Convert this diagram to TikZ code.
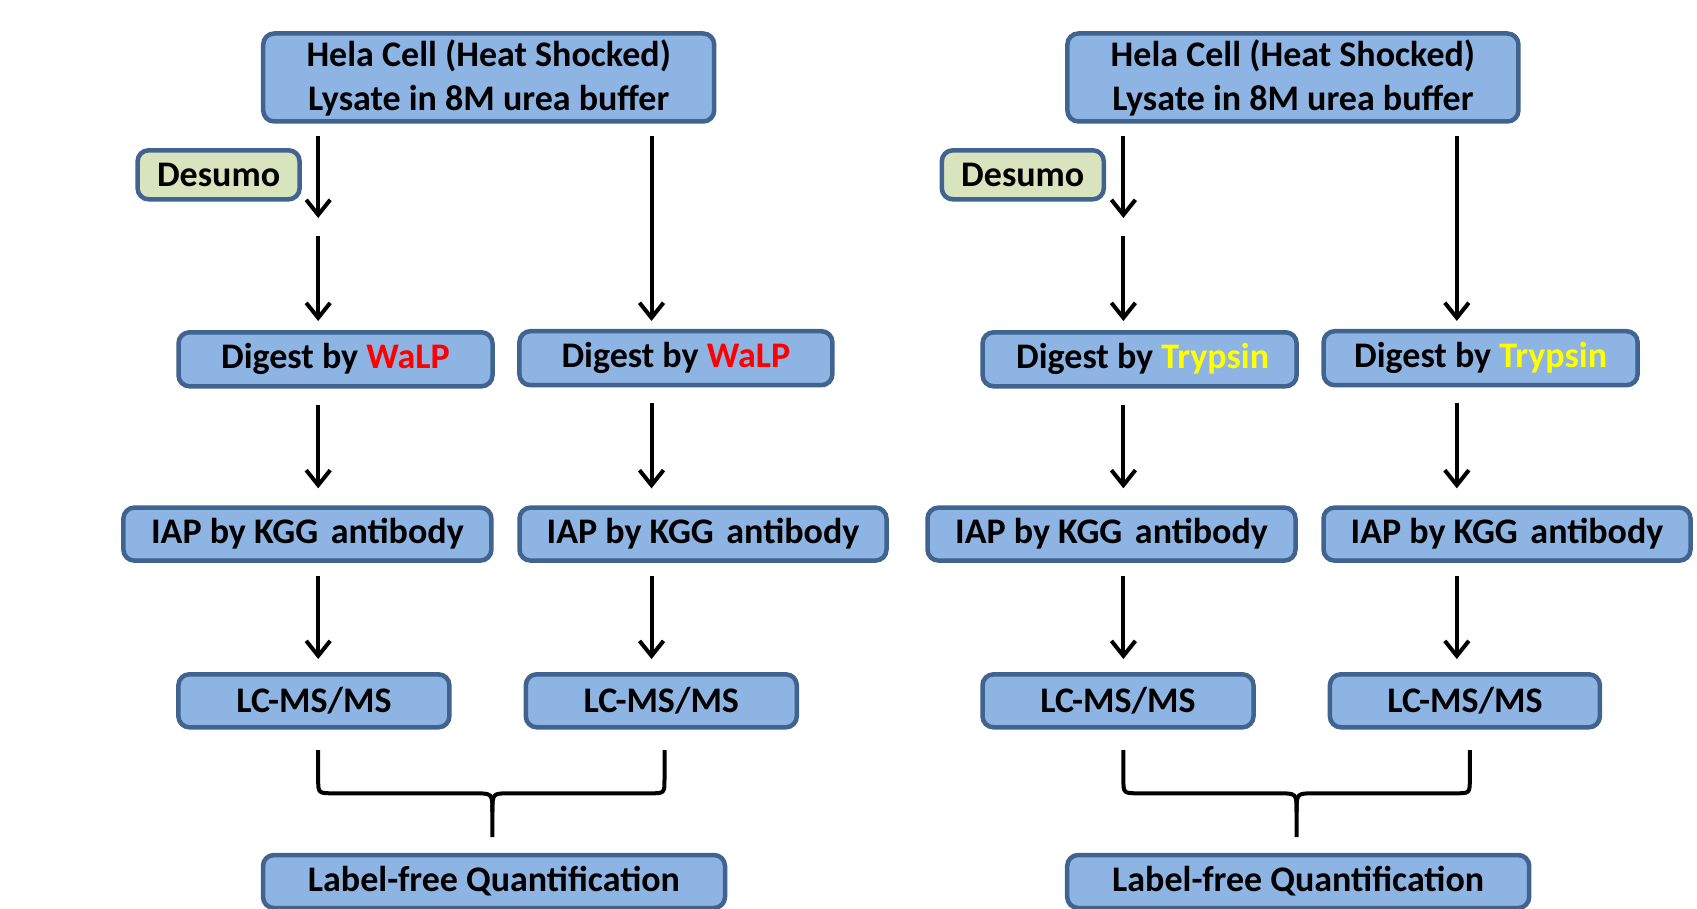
\documentclass[tikz,border=0pt]{standalone}
\usepackage{fontspec}
\setmainfont{Carlito}
\usetikzlibrary{arrows.meta,calc}
\definecolor{boxfill}{HTML}{8EB4E3}
\definecolor{boxline}{HTML}{41638F}
\definecolor{desfill}{HTML}{D7E4BD}
\definecolor{walp}{HTML}{FF0000}
\definecolor{tryp}{HTML}{FFFF00}
\begin{document}
\begin{tikzpicture}[x=1pt,y=-1pt,
  box/.style={draw=boxline, fill=boxfill, line width=4.5pt, rounded corners=11pt,
    minimum height=53pt, inner sep=0pt, align=center,
    font=\fontsize{36}{44}\selectfont\bfseries},
  arr/.style={line width=4pt, -{Straight Barb[length=15pt,width=24pt,line width=4pt]}},
  bracel/.style={line width=4pt}]
\useasboundingbox (0,0) rectangle (1697,909);

% ---------------- left panel ----------------
\node[box, minimum width=451pt, minimum height=88pt] (topL) at (488.7,77.5)
  {Hela Cell (Heat Shocked)\\Lysate in 8M urea buffer};
\node[box, fill=desfill, minimum width=162pt, minimum height=49pt] (desL) at (218.6,174.8) {Desumo};
\node[box, minimum width=314pt, minimum height=54pt] (digL1) at (335.5,359.3) {\raisebox{-2pt}{Digest by {\color{walp}WaLP}}};
\node[box, minimum width=313pt, minimum height=54pt] (digL2) at (675.9,358.2) {\raisebox{-2pt}{Digest by {\color{walp}WaLP}}};
\node[box, minimum width=368pt] (iapL1) at (307.4,534.1) {\raisebox{-2pt}{IAP by KGG\hspace{0.35em}antibody}};
\node[box, minimum width=367pt] (iapL2) at (703,534.1) {\raisebox{-2pt}{IAP by KGG\hspace{0.35em}antibody}};
\node[box, minimum width=271pt] (lcL1) at (313.9,700.8) {LC-MS/MS};
\node[box, minimum width=271pt] (lcL2) at (661.3,700.8) {LC-MS/MS};
\node[box, minimum width=462pt] (lfL) at (494,881.5) {Label-free Quantification};

\coordinate (cL1) at (318.2,0);
\coordinate (cL2) at (651.5,0);
\coordinate (dsL1) at (318.2,218);
\coordinate (dsL2) at (318.2,236);

\draw[arr, shorten <=12pt] (topL.south -| cL1) -- (dsL1);
\draw[arr, shorten >=9pt] (dsL2) -- (digL1.north -| cL1);
\draw[arr, shorten <=12pt, shorten >=8pt] (topL.south -| cL2) -- (digL2.north -| cL2);
\draw[arr, shorten <=16pt, shorten >=17pt] (digL1.south -| cL1) -- (iapL1.north -| cL1);
\draw[arr, shorten <=16pt, shorten >=17pt] (digL2.south -| cL2) -- (iapL2.north -| cL2);
\draw[arr, shorten <=13pt, shorten >=13pt] (iapL1.south -| cL1) -- (lcL1.north -| cL1);
\draw[arr, shorten <=13pt, shorten >=13pt] (iapL2.south -| cL2) -- (lcL2.north -| cL2);

\coordinate (bLa) at (318.2,750);
\coordinate (bLb) at (664.5,750);
\coordinate (bLt) at (492.4,837);
\draw[bracel] (bLa) -- (318.2,779) .. controls (318.2,793.3) .. (334,793.3) -- (474,793.3)
  .. controls (492.4,793.3) .. (492.4,812) -- (bLt);
\draw[bracel] (492.4,812) .. controls (492.4,793.3) .. (510,793.3) -- (650,793.3)
  .. controls (664.5,793.3) .. (664.5,779) -- (bLb);

% ---------------- right panel ----------------
\node[box, minimum width=451pt, minimum height=88pt] (topR) at (1292.9,77.5)
  {Hela Cell (Heat Shocked)\\Lysate in 8M urea buffer};
\node[box, fill=desfill, minimum width=162pt, minimum height=49pt] (desR) at (1022.8,174.8) {Desumo};
\node[box, minimum width=314pt, minimum height=54pt] (digR1) at (1139.6,359.3) {\raisebox{-2pt}{\hspace{6pt}Digest by {\color{tryp}Trypsin}}};
\node[box, minimum width=314pt, minimum height=54pt] (digR2) at (1480.6,358.2) {\raisebox{-2pt}{Digest by {\color{tryp}Trypsin}}};
\node[box, minimum width=368pt] (iapR1) at (1111.5,534.1) {\raisebox{-2pt}{IAP by KGG\hspace{0.35em}antibody}};
\node[box, minimum width=367pt] (iapR2) at (1507,534.1) {\raisebox{-2pt}{IAP by KGG\hspace{0.35em}antibody}};
\node[box, minimum width=271pt] (lcR1) at (1118,700.8) {LC-MS/MS};
\node[box, minimum width=270pt] (lcR2) at (1464.9,700.8) {LC-MS/MS};
\node[box, minimum width=462pt] (lfR) at (1298.2,881.5) {Label-free Quantification};

\coordinate (cR1) at (1123.4,0);
\coordinate (cR2) at (1456.8,0);
\coordinate (dsR1) at (1123.4,218);
\coordinate (dsR2) at (1123.4,236);

\draw[arr, shorten <=12pt] (topR.south -| cR1) -- (dsR1);
\draw[arr, shorten >=9pt] (dsR2) -- (digR1.north -| cR1);
\draw[arr, shorten <=12pt, shorten >=8pt] (topR.south -| cR2) -- (digR2.north -| cR2);
\draw[arr, shorten <=16pt, shorten >=17pt] (digR1.south -| cR1) -- (iapR1.north -| cR1);
\draw[arr, shorten <=16pt, shorten >=17pt] (digR2.south -| cR2) -- (iapR2.north -| cR2);
\draw[arr, shorten <=13pt, shorten >=13pt] (iapR1.south -| cR1) -- (lcR1.north -| cR1);
\draw[arr, shorten <=13pt, shorten >=13pt] (iapR2.south -| cR2) -- (lcR2.north -| cR2);

\coordinate (bRa) at (1123.4,750);
\coordinate (bRb) at (1469.8,750);
\coordinate (bRt) at (1296.6,837);
\draw[bracel] (bRa) -- (1123.4,779) .. controls (1123.4,793.3) .. (1139,793.3) -- (1278,793.3)
  .. controls (1296.6,793.3) .. (1296.6,812) -- (bRt);
\draw[bracel] (1296.6,812) .. controls (1296.6,793.3) .. (1315,793.3) -- (1455,793.3)
  .. controls (1469.8,793.3) .. (1469.8,779) -- (bRb);
\end{tikzpicture}
\end{document}
